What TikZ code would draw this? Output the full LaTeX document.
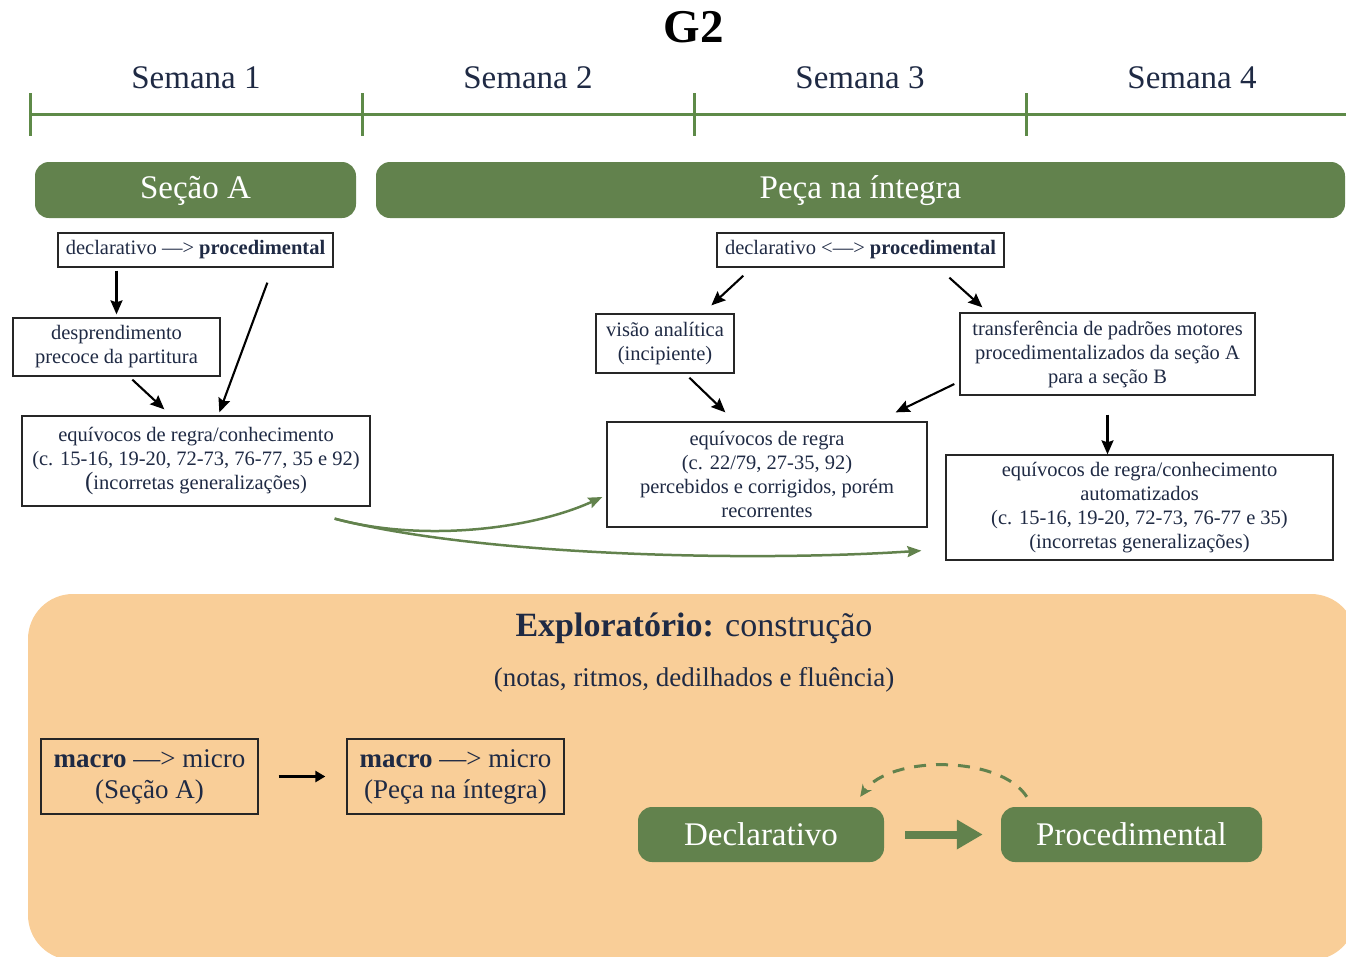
\documentclass[tikz,border=0pt]{standalone}
\usepackage{fontspec}
\setmainfont{Liberation Serif}
\usetikzlibrary{arrows.meta,calc}
\definecolor{navy}{HTML}{1F2A44}
\definecolor{leaf}{HTML}{62824D}
\definecolor{rule}{HTML}{5E8A48}
\definecolor{sand}{HTML}{F9CE98}
\newcommand\fsz[2]{\fontsize{#1}{#2}\selectfont}

\begin{document}
\begin{tikzpicture}[x=1pt,y=-1pt,
  pill/.style={fill=leaf, rounded corners=14pt, text=white, inner sep=0pt, font=\fsz{33}{38}},
  bx/.style={draw=black!85, line width=1.3pt, fill=white, align=center, inner sep=0pt, text=navy, font=\fsz{20.5}{24}},
  mbx/.style={draw=black!85, line width=1.3pt, fill=sand, align=center, inner sep=0pt, text=navy, font=\fsz{27}{31}},
  arr/.style={line width=2.1pt, -{Stealth[length=14pt,width=12pt,inset=2pt]}},
  garr/.style={draw=leaf, line width=2.5pt, -{Stealth[length=14pt,width=11pt,inset=2pt]}},
  wk/.style={text=navy, font=\fsz{33}{38}}]

\useasboundingbox (0,0) rectangle (1346,956);
\clip (0,0) rectangle (1346,956);

% title and week labels
\node[font=\bfseries\fsz{47}{50}] (title) at (694,27) {G2};
\node[wk] (w1) at (196,78) {Semana 1};
\node[wk] (w2) at (528,78) {Semana 2};
\node[wk] (w3) at (860,78) {Semana 3};
\node[wk] (w4) at (1192,78) {Semana 4};

% timeline
\draw[rule, line width=3pt] (30,114) -- (1350,114);
\foreach \x in {30,362,694,1026}
  \draw[rule, line width=3pt] (\x,93) -- (\x,136);

% section bars
\node[pill, minimum width=321pt, minimum height=56pt, text height=25pt] (secA) at (195.5,190) {Seção A};
\node[pill, minimum width=969pt, minimum height=56pt, text height=25pt] (peca) at (860.5,190) {Peça na íntegra};

% left column
\node[bx, minimum width=275pt, minimum height=34pt] (dp1) at (195.5,250)
  {declarativo —> \textbf{procedimental}};
\node[bx, minimum width=207pt, minimum height=58pt] (desp) at (116.5,347)
  {desprendimento\\precoce da partitura};
\node[bx, minimum width=348pt, minimum height=90pt] (eq1) at (196,461)
  {equívocos de regra/conhecimento\\(c. 15-16, 19-20, 72-73, 76-77, 35 e 92)\\{\fsz{25}{24}(}incorretas generalizações)};

\draw[arr, shorten <=3pt, shorten >=3pt] (desp.north |- dp1.south) -- (desp.north);
\draw[arr] ($(dp1.south west)+(210,15)$) -- ($(eq1.north west)+(198,-3)$);
\draw[arr] ($(desp.south west)+(120,3)$) -- ($(eq1.north west)+(143,-6)$);

% right column
\node[bx, minimum width=287pt, minimum height=34pt] (dp2) at (860.5,250)
  {declarativo <—> \textbf{procedimental}};
\node[bx, minimum width=138pt, minimum height=59pt] (vis) at (665,343.5)
  {visão analítica\\(incipiente)};
\node[bx, minimum width=295pt, minimum height=82pt] (trans) at (1107.5,354)
  {transferência de padrões motores\\procedimentalizados da seção A\\para a seção B};
\node[bx, minimum width=320pt, minimum height=105pt] (eq2) at (767,474.5)
  {equívocos de regra\\(c. 22/79, 27-35, 92)\\percebidos e corrigidos, porém\\recorrentes};
\node[bx, minimum width=387pt, minimum height=105pt] (eq3) at (1139.5,507.5)
  {equívocos de regra/conhecimento\\automatizados\\(c. 15-16, 19-20, 72-73, 76-77 e 35)\\(incorretas generalizações)};

\draw[arr] ($(dp2.south west)+(27,8)$) -- ($(vis.north west)+(116,-8)$);
\draw[arr] ($(dp2.south west)+(233,10)$) -- ($(trans.north west)+(23,-5)$);
\draw[arr] ($(vis.south west)+(94,4)$) -- ($(eq2.north west)+(119,-9)$);
\draw[arr] ($(trans.west)+(-5,30)$) -- ($(eq2.north east)+(-32,-9)$);
\draw[arr] ($(trans.south)+(0,19)$) -- (trans.south |- eq3.north);

% carried-over errors
\coordinate (src) at ($(eq1.south east)+(-36,12)$);
\draw[garr] (src) .. controls (420,542) and (530,530) .. ($(eq2.west)+(-4,22.5)$);
\draw[garr] (src) .. controls (480,556) and (750,562) .. ($(eq3.south west)+(-24,-10)$);

% exploratory phase panel
\fill[sand, rounded corners=45pt] (28,594) rectangle (1356,960);
\node[text=navy, font=\fsz{34}{38}] (expl) at (694,628) {\textbf{Exploratório:} construção};
\node[text=navy, font=\fsz{27}{31}] (sub) at (694,680) {(notas, ritmos, dedilhados e fluência)};

\node[mbx, minimum width=217pt, minimum height=75pt] (m1) at (149.5,776.5)
  {\textbf{macro} —> micro\\(Seção A)};
\node[mbx, minimum width=217pt, minimum height=75pt] (m2) at (455.5,776.5)
  {\textbf{macro} —> micro\\(Peça na íntegra)};
\draw[line width=3pt, -{Triangle[length=10pt,width=11pt]}] ($(m1.east)+(20,0)$) -- ($(m2.west)+(-21,0)$);

\node[pill, minimum width=246pt, minimum height=55pt] (decl) at (761,834.5) {Declarativo};
\node[pill, minimum width=261pt, minimum height=55pt] (proc) at (1131.5,834.5) {Procedimental};
\draw[leaf, line width=8pt, -{Triangle[length=26pt,width=28pt]}] ($(decl.east)+(21,0)$) -- ($(proc.west)+(-18,0)$);
\draw[leaf, line width=3pt, dash pattern=on 12pt off 10pt, -{Stealth[length=12pt,width=11pt]}]
  ($(proc.north west)+(26,-10)$) .. controls (1000,755) and (890,755) .. ($(decl.north east)+(-24,-10)$);

\end{tikzpicture}
\end{document}
